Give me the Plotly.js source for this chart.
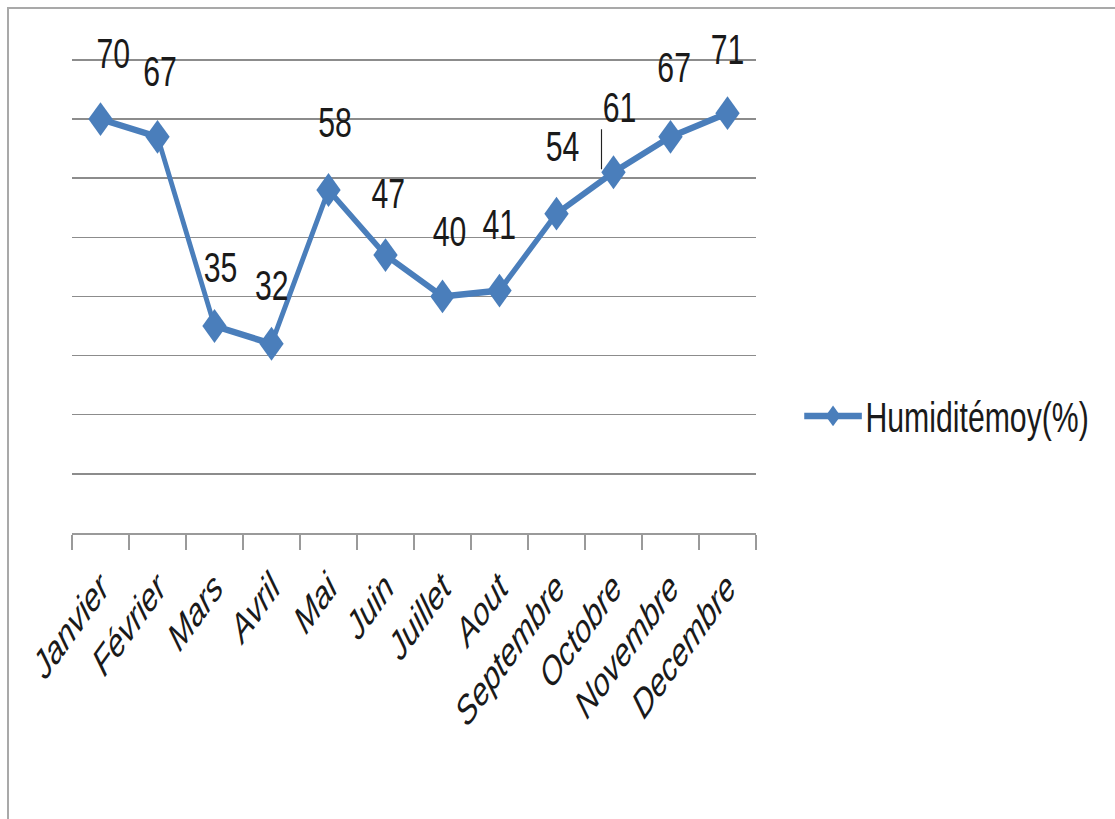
<!DOCTYPE html>
<html>
<head>
<meta charset="utf-8">
<script src="https://cdn.plot.ly/plotly-3.0.1.min.js"></script>
<style>
  html, body { margin: 0; padding: 0; background: #ffffff; overflow: hidden; }
  #frame {
    position: absolute; left: 7px; top: 7px; right: -10px; bottom: -10px;
    border-top: 2px solid #a9a9a9; border-left: 2px solid #a9a9a9;
  }
  /* the chart is laid out wide and squeezed horizontally for a condensed look */
  #chart {
    position: absolute; left: 0; top: 0; height: 819px;
    transform-origin: 0 0;
  }
</style>
</head>
<body>
<div id="frame"></div>
<div id="chart"></div>
<script>
// Monthly mean relative humidity (%)
const months = ["Janvier", "Février", "Mars", "Avril", "Mai", "Juin", "Juillet",
                "Aout", "Septembre", "Octobre", "Novembre", "Decembre"];
const humidity = [70, 67, 35, 32, 58, 47, 40, 41, 54, 61, 67, 71];
const seriesName = "Humiditémoy(%)";

// Pixel nudges for the value labels (dx right, dy up), in on-screen pixels
const labelDx = [13, 3, 6, 0, 7, 3, 7, 0, 6, 6, 4, 0];
const labelDy = [66, 65, 59, 58, 68, 62, 65, 66, 67, 65, 69, 64];

const SX = 0.72;                 // horizontal squeeze factor
const W = Math.round(1115 / SX); // layout width before squeezing
const chartDiv = document.getElementById("chart");
chartDiv.style.width = W + "px";
chartDiv.style.transform = "scaleX(" + SX + ")";

const FONT = '"Liberation Sans", Arial, sans-serif';
const BLUE = "#4a7ebb";
const INK = "#1a1a1a";

const trace = {
  type: "scatter",
  mode: "lines+markers",
  x: months,
  y: humidity,
  name: seriesName,
  line: { color: BLUE, width: 6.5 },
  marker: { symbol: "diamond", size: 26, color: BLUE },
  showlegend: true,
  hoverinfo: "x+y"
};

const annotations = months.map((m, i) => ({
  x: m, y: humidity[i], xref: "x", yref: "y",
  text: String(humidity[i]),
  showarrow: false,
  xshift: labelDx[i] / SX, yshift: labelDy[i],
  font: { family: FONT, size: 42, color: INK }
}));

// small leader tick beside the October label
const shapes = [{
  type: "line", xref: "x", yref: "y",
  xsizemode: "pixel", ysizemode: "pixel",
  xanchor: "Octobre", yanchor: humidity[9],
  x0: -12 / SX, x1: -12 / SX, y0: 3, y1: 43,
  line: { color: "#222222", width: 1.6 }
}];

const plotLeft = 72 / SX, plotRight = 756 / SX;

const layout = {
  width: W, height: 819,
  margin: { l: plotLeft, r: W - plotRight, t: 54, b: 286 },
  paper_bgcolor: "rgba(0,0,0,0)",
  plot_bgcolor: "rgba(0,0,0,0)",
  font: { family: FONT, color: INK },
  xaxis: {
    type: "category",
    range: [-0.5, 11.5],
    tickson: "boundaries",
    ticks: "outside", ticklen: 15, tickwidth: 2, tickcolor: "#9a9a9a",
    showline: true, linecolor: "#9a9a9a", linewidth: 2,
    showgrid: false, zeroline: false,
    tickangle: -45,
    ticklabelstandoff: 13,
    tickfont: { family: FONT, size: 40, color: INK, style: "italic" },
    fixedrange: true
  },
  yaxis: {
    range: [0, 81],
    tickvals: [10, 20, 30, 40, 50, 60, 70, 80],
    showticklabels: false,
    ticks: "",
    showgrid: true, gridcolor: "#8c8c8c", gridwidth: 1.5,
    zeroline: false, showline: false,
    fixedrange: true
  },
  showlegend: true,
  legend: {
    x: (1112 - plotLeft) / (plotRight - plotLeft), xanchor: "left",
    y: 0.244, yanchor: "middle",
    font: { family: FONT, size: 42, color: INK },
    bgcolor: "rgba(0,0,0,0)",
    itemwidth: 80
  },
  annotations: annotations,
  shapes: shapes
};

Plotly.newPlot(chartDiv, [trace], layout, { displayModeBar: false, staticPlot: true });
</script>
</body>
</html>
